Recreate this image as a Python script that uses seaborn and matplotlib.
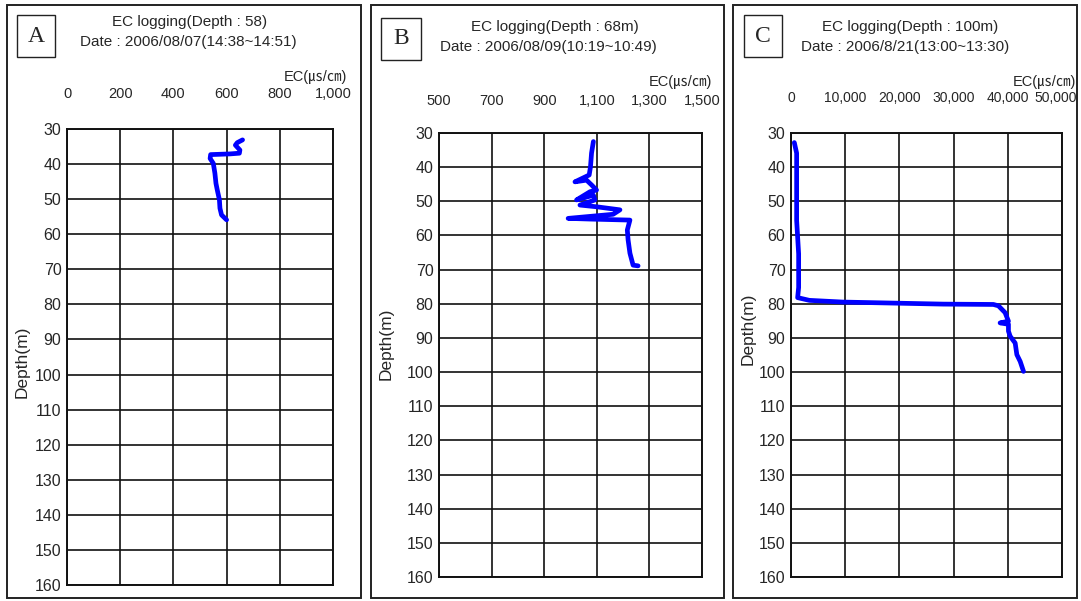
import matplotlib
matplotlib.use("Agg")
import matplotlib.pyplot as plt
from matplotlib import font_manager
from matplotlib.patches import Rectangle
from matplotlib.ticker import FuncFormatter
from matplotlib.transforms import ScaledTranslation
import seaborn as sns
import pandas as pd

# EC logging profiles (EC in uS/cm, depth in m)
ec_a = [660, 640, 633, 650, 648, 613, 540, 538, 550, 556, 560, 565, 573, 575, 581, 600]
depth_a = [33.1, 33.9, 34.6, 36.0, 36.9, 37.1, 37.3, 38.4, 39.8, 42.6, 45.5, 47.4, 50.2, 52.6, 54.5, 55.9]

ec_b = [1087, 1080, 1076, 1071, 1017, 1061, 1080, 1099, 1074, 1023, 1087, 1093, 1036, 1099,
        1188, 1162, 991, 1074, 1226, 1216, 1219, 1226, 1238, 1257]
depth_b = [32.5, 35.9, 39.9, 42.3, 44.3, 43.8, 45.2, 46.7, 47.2, 49.6, 48.2, 49.6, 51.1, 51.6,
           52.5, 53.8, 55.0, 55.2, 55.5, 58.4, 61.3, 65.2, 68.7, 68.9]

ec_c = [611, 1040, 1040, 1410, 1410, 1225, 3390, 9560, 18820, 28080, 37340, 38270, 39500,
        40120, 38580, 40120, 40120, 40430, 41360, 41670, 42290, 42900]
depth_c = [32.8, 35.9, 55.6, 65.4, 75.2, 78.2, 79.0, 79.5, 79.8, 80.1, 80.2, 80.6, 82.6,
           85.1, 85.6, 86.0, 88.0, 89.5, 91.5, 94.9, 96.9, 99.8]

panel_letters = ["A", "B", "C"]
titles = ["EC logging(Depth : 58)", "EC logging(Depth : 68m)", "EC logging(Depth : 100m)"]
dates = ["Date : 2006/08/07(14:38~14:51)", "Date : 2006/08/09(10:19~10:49)",
         "Date : 2006/8/21(13:00~13:30)"]
x_ticks = [[0, 200, 400, 600, 800, 1000],
           [500, 700, 900, 1100, 1300, 1500],
           [0, 10000, 20000, 30000, 40000, 50000]]
y_ticks = list(range(30, 161, 10))
unit_label = "EC(㎲/㎝)"
y_label = "Depth(m)"

sns.set_theme(style="white")
available = {f.name for f in font_manager.fontManager.ttflist}
narrow = "Liberation Sans Narrow" if "Liberation Sans Narrow" in available else "Liberation Sans"
plt.rcParams["font.family"] = [narrow, "Noto Sans CJK KR", "DejaVu Sans"]

W, H = 1081, 601
fig = plt.figure(figsize=(W / 100, H / 100), dpi=100)
fig.patch.set_facecolor("white")


def fx(px):
    return px / W


def fy(py):
    return 1 - py / H


# layout in pixels: outer frame, axes box, letter box, text anchors
layouts = [
    dict(frame=(7, 5, 361, 598), axes=(67, 129, 333, 585), letter=(17, 15, 55, 57),
         title=(190, 22), date=(188, 42), unit=(347, 77), tick_y=103, tick_fs=10.5,
         ylab_x=22, ylab_f=0.51),
    dict(frame=(371, 5, 724, 598), axes=(439, 133, 702, 577), letter=(381, 18, 421, 60),
         title=(555, 27), date=(548, 47), unit=(712, 82), tick_y=109, tick_fs=10.5,
         ylab_x=386, ylab_f=0.475),
    dict(frame=(733, 5, 1077, 598), axes=(791, 133, 1062, 577), letter=(744, 15, 782, 57),
         title=(910, 27), date=(905, 47), unit=(1076, 82), tick_y=107, tick_fs=10,
         ylab_x=748, ylab_f=0.44),
]
profiles = [(ec_a, depth_a), (ec_b, depth_b), (ec_c, depth_c)]

for i, lay in enumerate(layouts):
    x0, y0, x1, y1 = lay["frame"]
    fig.patches.append(Rectangle((fx(x0), fy(y1)), fx(x1 - x0), (y1 - y0) / H,
                                 transform=fig.transFigure, fill=False,
                                 edgecolor="#222222", linewidth=1.4))
    lx0, ly0, lx1, ly1 = lay["letter"]
    fig.patches.append(Rectangle((fx(lx0), fy(ly1)), fx(lx1 - lx0), (ly1 - ly0) / H,
                                 transform=fig.transFigure, fill=False,
                                 edgecolor="#222222", linewidth=1.0))
    fig.text(fx((lx0 + lx1) / 2), fy((ly0 + ly1) / 2), panel_letters[i],
             family="Liberation Serif", fontsize=17, ha="center", va="center")
    fig.text(fx(lay["title"][0]), fy(lay["title"][1]), titles[i],
             fontsize=11, ha="center", va="center")
    fig.text(fx(lay["date"][0]), fy(lay["date"][1]), dates[i],
             fontsize=11, ha="center", va="center")
    fig.text(fx(lay["unit"][0]), fy(lay["unit"][1]), unit_label,
             fontsize=10.5, ha="right", va="center")

    ax0, ay0, ax1, ay1 = lay["axes"]
    ax = fig.add_axes([fx(ax0), fy(ay1), fx(ax1 - ax0), (ay1 - ay0) / H])
    ec, depth = profiles[i]
    df = pd.DataFrame({"EC": ec, "Depth": depth})
    sns.lineplot(data=df, x="EC", y="Depth", sort=False, estimator=None, ax=ax,
                 color="#0000ff", linewidth=3.4, solid_capstyle="round",
                 solid_joinstyle="round")
    ax.set_xlim(x_ticks[i][0], x_ticks[i][-1])
    ax.set_ylim(160, 30)
    ax.set_xticks(x_ticks[i])
    ax.set_yticks(y_ticks)
    ax.xaxis.set_major_formatter(FuncFormatter(lambda v, p: f"{v:,.0f}"))
    ax.xaxis.tick_top()
    ax.tick_params(axis="x", length=0, labelsize=lay["tick_fs"],
                   pad=(ay0 - lay["tick_y"]) - 6)
    ax.tick_params(axis="y", length=0, labelsize=11.5, pad=4)
    ax.grid(True, color="#111111", linewidth=1.2)
    for s in ax.spines.values():
        s.set_color("#111111")
        s.set_linewidth(1.4)
    ax.set_xlabel("")
    ax.set_ylabel("")
    if i == 2:
        # keep the widest top label inside the frame
        last = ax.get_xticklabels()[-1]
        last.set_transform(last.get_transform() +
                           ScaledTranslation(-6 / 100, 0, fig.dpi_scale_trans))
    fig.text(fx(lay["ylab_x"]), fy(ay0 + lay["ylab_f"] * (ay1 - ay0)), y_label,
             fontsize=12.5, rotation=90, ha="center", va="center")

fig.savefig("out.png", dpi=100, facecolor="white")
